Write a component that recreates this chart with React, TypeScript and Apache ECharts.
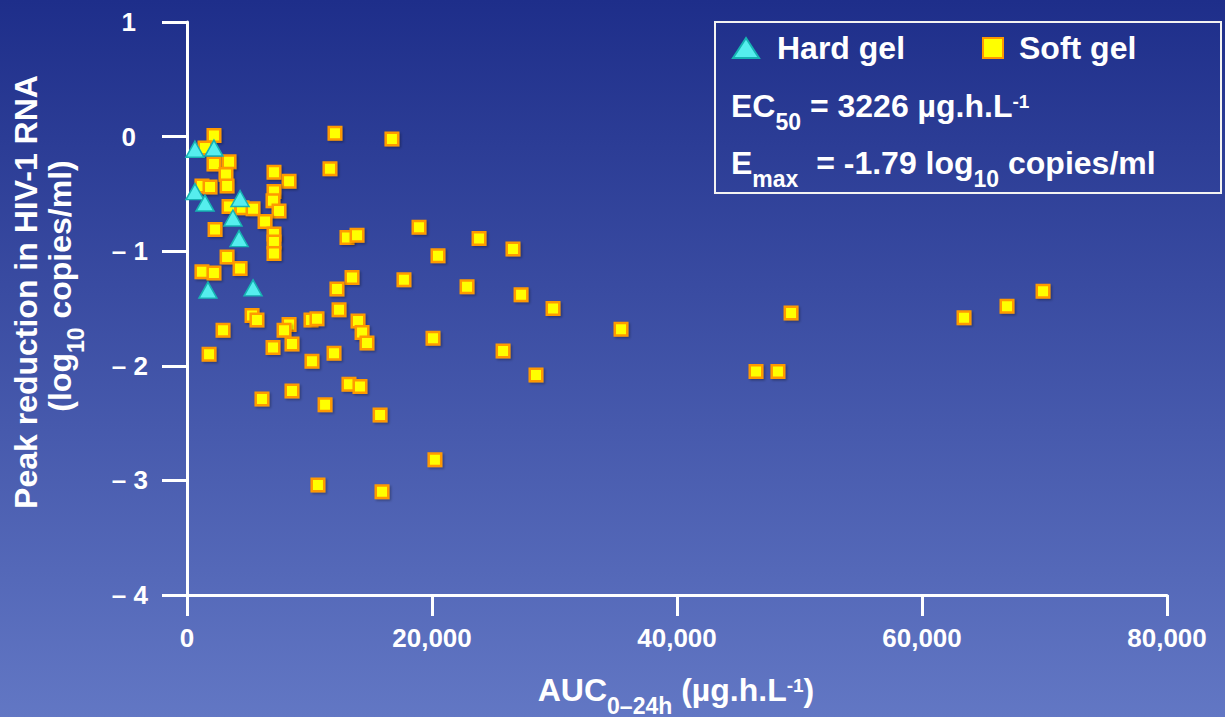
import React, { useEffect, useRef } from 'react';
import * as echarts from 'echarts';

const FONT = '"Liberation Sans", Arial, Helvetica, sans-serif';

// Axis ticks
const xTicks = [0, 20000, 40000, 60000, 80000];
const yTicks = [1, 0, -1, -2, -3, -4];

// Hard gel: AUC (µg.h/L) and peak reduction (log10 copies/ml)
const hardGelAuc = [650, 2200, 650, 1470, 3750, 4330, 4250, 1710, 5390];
const hardGelReduction = [-0.11, -0.1, -0.48, -0.58, -0.71, -0.54, -0.89, -1.34, -1.32];

// Soft gel
const softGelAuc = [
  2200, 1470, 2200, 3430, 3180, 1220, 1880, 3270, 7100, 8330,
  7100, 7020, 7510, 3430, 4490, 5390, 6370, 7100, 7100, 7100,
  2290, 3270, 4330, 1220, 2200, 5310, 5710, 8330, 7920, 10120,
  10610, 2940, 1800, 7020, 8570, 10200, 8570, 6120, 11270, 12080,
  16730, 11670, 18940, 20490, 13060, 13880, 13470, 17710, 12240, 12410,
  13960, 14290, 14690, 20080, 12000, 13220, 14120, 15760, 20240, 10690,
  15920, 23840, 26610, 22860, 27270, 29880, 25800, 28490, 35430, 46450,
  48240, 49310, 63430, 66940, 69880,
];
const softGelReduction = [
  0.01, -0.1, -0.24, -0.22, -0.33, -0.43, -0.44, -0.43, -0.31, -0.39,
  -0.48, -0.56, -0.65, -0.61, -0.62, -0.63, -0.74, -0.85, -0.92, -1.02,
  -0.81, -1.05, -1.15, -1.18, -1.19, -1.56, -1.6, -1.64, -1.69, -1.6,
  -1.59, -1.69, -1.9, -1.84, -1.81, -1.96, -2.22, -2.29, -2.34, 0.03,
  -0.02, -0.28, -0.79, -1.04, -0.88, -0.86, -1.23, -1.25, -1.33, -1.51,
  -1.61, -1.71, -1.8, -1.76, -1.89, -2.16, -2.18, -2.43, -2.82, -3.04,
  -3.1, -0.89, -0.98, -1.31, -1.38, -1.5, -1.87, -2.08, -1.68, -2.05,
  -2.05, -1.54, -1.58, -1.48, -1.35,
];

const seriesNames = ['Hard gel', 'Soft gel'];
const ec50Value = '3226';
const emaxValue = '-1.79';

export default function App() {
  const ref = useRef<HTMLDivElement>(null);

  useEffect(() => {
    if (!ref.current) return;
    const chart = echarts.init(ref.current, null, { renderer: 'svg' });

    const base = { fontWeight: 'bold', fontFamily: FONT, fill: '#ffffff', color: '#ffffff' };
    const rich = {
      m: { ...base, fontSize: 32, lineHeight: 40, verticalAlign: 'top' },
      s: { ...base, fontSize: 23, lineHeight: 20, verticalAlign: 'top', padding: [20, 0, 0, 0] },
      p: { ...base, fontSize: 19, lineHeight: 20, verticalAlign: 'top', padding: [2, 0, 0, 0] },
    };

    const tickLabel = { color: '#ffffff', fontSize: 26, fontWeight: 'bold', fontFamily: FONT };

    chart.setOption({
      animation: false,
      backgroundColor: {
        type: 'linear', x: 0, y: 0, x2: 0, y2: 1,
        colorStops: [
          { offset: 0, color: '#1e2e8a' },
          { offset: 1, color: '#6277c4' },
        ],
      },
      grid: { left: 187, top: 22, right: 58, bottom: 122, containLabel: false },
      xAxis: {
        type: 'value',
        min: xTicks[0],
        max: xTicks[xTicks.length - 1],
        interval: xTicks[1] - xTicks[0],
        axisLine: { show: true, onZero: false, lineStyle: { color: '#ffffff', width: 3 } },
        axisTick: { show: true, length: 21, lineStyle: { color: '#ffffff', width: 3 } },
        splitLine: { show: false },
        axisLabel: {
          ...tickLabel,
          margin: 30,
          formatter: (v: number) => v.toLocaleString('en-US'),
        },
      },
      yAxis: {
        type: 'value',
        min: yTicks[yTicks.length - 1],
        max: yTicks[0],
        interval: 1,
        axisLine: { show: true, onZero: false, lineStyle: { color: '#ffffff', width: 3 } },
        axisTick: { show: true, length: 25, lineStyle: { color: '#ffffff', width: 3 } },
        splitLine: { show: false },
        axisLabel: {
          ...tickLabel,
          margin: 39,
          formatter: (v: number) => (v < 0 ? '\u2013 ' + Math.abs(v) : '{n|' + v + '}'),
          rich: { n: { ...tickLabel, padding: [0, 12, 0, 0] } },
        },
      },
      legend: [
        {
          data: [seriesNames[0]],
          left: 732, top: 32,
          itemWidth: 26, itemHeight: 20,
          padding: 0,
          formatter: (name: string) => '{a|' + name + '}',
          textStyle: {
            color: '#ffffff', fontSize: 32, fontWeight: 'bold', fontFamily: FONT,
            rich: { a: { color: '#ffffff', fontSize: 32, fontWeight: 'bold', fontFamily: FONT, padding: [0, 0, 0, 13] } },
          },
        },
        {
          data: [seriesNames[1]],
          left: 982, top: 32,
          itemWidth: 20, itemHeight: 20,
          padding: 0,
          formatter: (name: string) => '{a|' + name + '}',
          textStyle: {
            color: '#ffffff', fontSize: 32, fontWeight: 'bold', fontFamily: FONT,
            rich: { a: { color: '#ffffff', fontSize: 32, fontWeight: 'bold', fontFamily: FONT, padding: [0, 0, 0, 11] } },
          },
        },
      ],
      series: [
        {
          name: seriesNames[1],
          type: 'scatter',
          symbol: 'rect',
          symbolSize: 12.5,
          z: 2,
          itemStyle: {
            color: '#ffff00', borderColor: '#ff9900', borderWidth: 2.5, opacity: 1,
            shadowColor: 'rgba(0,0,0,0.3)', shadowBlur: 2, shadowOffsetX: 1.5, shadowOffsetY: 1.5,
          },
          data: softGelAuc.map((x, i) => [x, softGelReduction[i]]),
        },
        {
          name: seriesNames[0],
          type: 'scatter',
          symbol: 'triangle',
          symbolSize: [18, 16],
          z: 3,
          itemStyle: { color: '#55eeee', borderColor: '#16b3b3', borderWidth: 1.5, opacity: 1 },
          data: hardGelAuc.map((x, i) => [x, hardGelReduction[i]]),
        },
      ],
      graphic: [
        {
          type: 'rect',
          shape: { x: 715, y: 22, width: 506, height: 171 },
          style: { fill: 'none', stroke: '#f2f2f2', lineWidth: 2 },
          silent: true,
        },
        {
          type: 'text', x: 731, y: 90,
          style: {
            text: '{m|EC}{s|50}{m| = ' + ec50Value + ' µg.h.L}{p|-1}',
            rich, align: 'left', verticalAlign: 'top', fill: '#ffffff',
          },
        },
        {
          type: 'text', x: 731, y: 147,
          style: {
            text: '{m|E}{s|max}{m|  = ' + emaxValue + ' log}{s|10}{m| copies/ml}',
            rich, align: 'left', verticalAlign: 'top', fill: '#ffffff',
          },
        },
        {
          type: 'text', x: 676, y: 674,
          style: {
            text: '{m|AUC}{s|0\u201324h}{m| (µg.h.L}{p|-1}{m|)}',
            rich, align: 'center', verticalAlign: 'top', fill: '#ffffff',
          },
        },
        {
          type: 'text', x: 26, y: 292, rotation: Math.PI / 2,
          style: {
            text: 'Peak reduction in HIV-1 RNA',
            fontSize: 32, fontWeight: 'bold', fontFamily: FONT, fill: '#ffffff',
            align: 'center', verticalAlign: 'middle',
          },
        },
        {
          type: 'text', x: 64, y: 286, rotation: Math.PI / 2,
          style: {
            text: '{m|(log}{s|10}{m| copies/ml)}',
            rich, align: 'center', verticalAlign: 'middle', fill: '#ffffff',
          },
        },
      ],
    });

    return () => chart.dispose();
  }, []);

  return (
    <div
      ref={ref}
      style={{ position: 'fixed', left: 0, top: 0, width: 1225, height: 717 }}
    />
  );
}
